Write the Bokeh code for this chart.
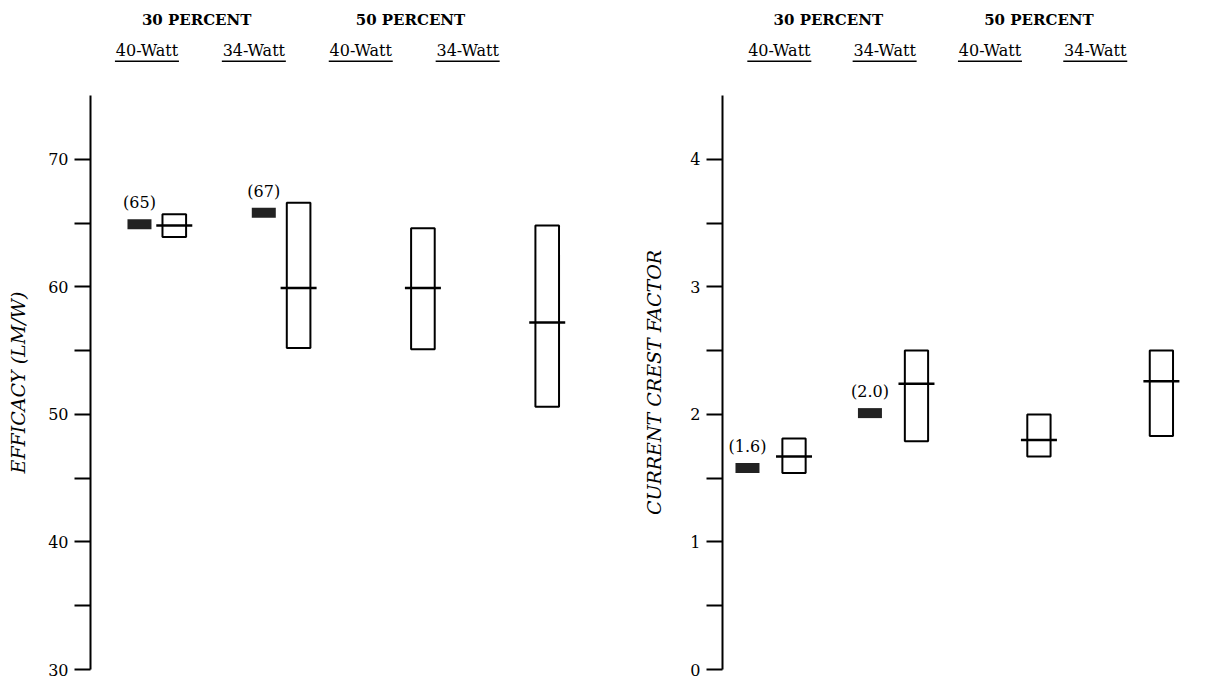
import numpy as np
from bokeh.plotting import figure
from bokeh.models import Range1d, FixedTicker, CustomJSTickFormatter
from bokeh.layouts import column, row
from bokeh.embed import file_html
from bokeh.resources import INLINE
from bokeh.core.properties import value

# ---------------- data ----------------
percent_groups = ["30 PERCENT", "50 PERCENT"]
lamp_types = ["40-Watt", "34-Watt", "40-Watt", "34-Watt"]

# Efficacy (LM/W): range boxes for each column, with the median bar
eff_low = [63.9, 55.2, 55.1, 50.6]
eff_high = [65.7, 66.6, 64.6, 64.8]
eff_median = [64.8, 59.9, 59.9, 57.2]
# reference (filled) marks, 30 percent columns only
eff_ref = [64.9, 65.8]
eff_ref_labels = ["(65)", "(67)"]

# Current crest factor
ccf_low = [1.54, 1.79, 1.67, 1.83]
ccf_high = [1.81, 2.50, 2.00, 2.50]
ccf_median = [1.67, 2.24, 1.80, 2.26]
ccf_ref = [1.58, 2.01]
ccf_ref_labels = ["(1.6)", "(2.0)"]

# ---------------- layout ----------------
FONT = "DejaVu Serif"
W_L, W_R = 610, 606
H_HDR, H_PLOT = 95, 584
HDR_STEP = 0.86
cols = np.arange(len(lamp_types))


def header_fig(xr, border_left, width, sub_offset):
    h = figure(width=width, height=H_HDR, x_range=xr, y_range=Range1d(0, 1),
               output_backend="svg", toolbar_location=None,
               min_border_left=border_left, min_border_right=0,
               min_border_top=0, min_border_bottom=0)
    h.axis.visible = False
    h.grid.visible = False
    h.outline_line_color = None
    frame_w = width - border_left
    ppu = frame_w / (xr.end - xr.start)
    sub_x = [sub_offset + HDR_STEP * i for i in range(len(lamp_types))]
    h.text(x=sub_x, y=[0.474] * 4, text=lamp_types, text_align="center",
           text_baseline="middle", text_font=value(FONT), text_font_size="16px",
           text_color="black")
    half = 32 / ppu
    h.segment(x0=[x - half for x in sub_x], x1=[x + half for x in sub_x],
              y0=[0.36] * 4, y1=[0.36] * 4, line_color="black", line_width=1.4)
    grp_x = [(sub_x[0] + sub_x[1]) / 2 - 0.03, (sub_x[2] + sub_x[3]) / 2 - 0.03]
    h.text(x=grp_x, y=[0.79] * 2, text=percent_groups, text_align="center",
           text_baseline="middle", text_font=value(FONT), text_font_size="15px",
           text_font_style="bold", text_color="black")
    return h


def panel(xr, yr, border_left, width, ticks, label_every, label, standoff,
          low, high, med, ref, ref_labels, dodge):
    p = figure(width=width, height=H_PLOT, x_range=xr, y_range=yr,
               output_backend="svg", toolbar_location=None,
               min_border_left=border_left, min_border_right=0,
               min_border_top=0, min_border_bottom=10)
    p.xaxis.visible = False
    p.grid.visible = False
    p.outline_line_color = None
    ax = p.yaxis[0]
    ax.ticker = FixedTicker(ticks=ticks, minor_ticks=[])
    ax.formatter = CustomJSTickFormatter(
        args=dict(step=label_every),
        code="return (Math.abs(tick / step - Math.round(tick / step)) < 1e-6) ? String(Math.round(tick)) : '';")
    ax.axis_line_width = 2
    ax.axis_line_color = "black"
    ax.major_tick_line_width = 2
    ax.major_tick_line_color = "black"
    ax.major_tick_out = 16
    ax.major_tick_in = 0
    ax.minor_tick_out = 0
    ax.minor_tick_in = 0
    ax.major_label_text_font = FONT
    ax.major_label_text_font_size = "16px"
    ax.major_label_text_color = "black"
    ax.major_label_standoff = 6
    ax.axis_label = label
    ax.axis_label_text_font = FONT
    ax.axis_label_text_font_style = "italic"
    ax.axis_label_text_font_size = "19px"
    ax.axis_label_text_color = "black"
    ax.axis_label_standoff = standoff

    p.vbar(x=cols, width=0.19, bottom=low, top=high, fill_color="white",
           line_color="black", line_width=2)
    p.scatter(x=cols, y=med, marker="dash", size=36, line_color="black",
              line_width=2.5)
    ref_x = [c - dodge for c in cols[:len(ref)]]
    p.rect(x=ref_x, y=ref, width=24, width_units="screen", height=10,
           height_units="screen", fill_color="#222222", line_color=None)
    p.text(x=ref_x, y=ref, text=ref_labels, text_align="center",
           text_baseline="bottom", y_offset=-12, text_font=value(FONT),
           text_font_size="16px", text_color="black")
    return p


xl = Range1d(-0.674, 3.509)
xr = Range1d(-0.584, 3.45)

hL = header_fig(xl, 90, W_L, -0.22)
hR = header_fig(xr, 112, W_R, -0.12)

pL = panel(xl, Range1d(30, 75), 90, W_L, list(range(30, 75, 5)), 10,
           "EFFICACY (LM/W)", 16, eff_low, eff_high, eff_median, eff_ref,
           eff_ref_labels, 0.28)
pR = panel(xr, Range1d(0, 4.5), 112, W_R, [i * 0.5 for i in range(9)], 1,
           "CURRENT CREST FACTOR", 22, ccf_low, ccf_high, ccf_median, ccf_ref,
           ccf_ref_labels, 0.38)

layout = column(row(hL, hR), row(pL, pR))
open("out.html", "w").write(file_html(layout, INLINE))
